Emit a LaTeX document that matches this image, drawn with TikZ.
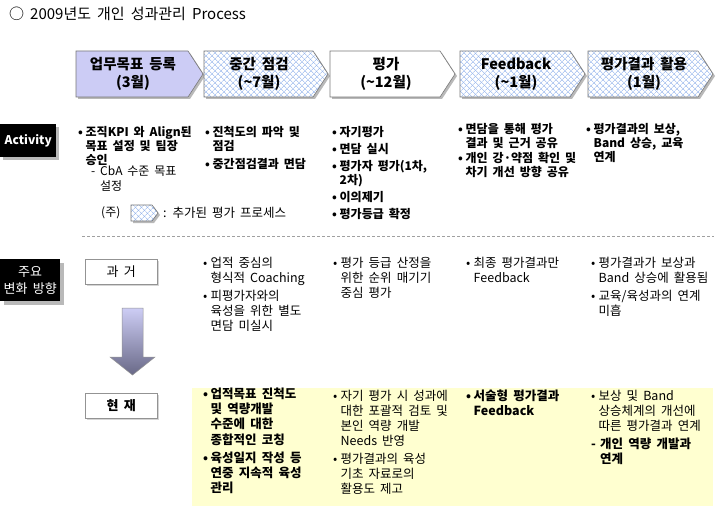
\documentclass[tikz,border=0pt]{standalone}
\usepackage{fontspec}
\setmainfont{Noto Sans CJK KR}[WordSpace=1.8]
\usetikzlibrary{patterns.meta}
\setlength{\lineskip}{0pt}
\definecolor{lav}{RGB}{204,204,245}
\definecolor{hatchc}{RGB}{140,175,235}
\definecolor{bord}{RGB}{120,120,120}
\definecolor{shadowc}{RGB}{185,185,185}
\definecolor{yel}{RGB}{255,255,208}
\definecolor{arrtop}{RGB}{205,205,245}
\definecolor{arrbot}{RGB}{105,105,135}
\newcommand\chevp[5]{(#1,#3) -- ({#2-#5},#3) -- (#2,{(#3+#4)/2}) -- ({#2-#5},#4) -- (#1,#4) -- cycle}
\newcommand\hatchchev[5]{%
  \fill[shadowc,shift={(2,2)}] \chevp{#1}{#2}{#3}{#4}{#5};
  \fill[white] \chevp{#1}{#2}{#3}{#4}{#5};
  \fill[hatchA] \chevp{#1}{#2}{#3}{#4}{#5};
  \fill[hatchB] \chevp{#1}{#2}{#3}{#4}{#5};
  \draw[chevline] \chevp{#1}{#2}{#3}{#4}{#5};}
\newcommand\bul[1]{\makebox[7.5pt][l]{•}\begin{tabular}[t]{@{}l@{}}#1\end{tabular}}
\newcommand\dashit[1]{\makebox[9pt][l]{-}\begin{tabular}[t]{@{}l@{}}#1\end{tabular}}
\tikzset{
  hatchA/.style={pattern={Lines[angle=45,distance=4pt,line width=0.5pt]},pattern color=hatchc},
  hatchB/.style={pattern={Lines[angle=-45,distance=4pt,line width=0.5pt]},pattern color=hatchc},
  chevline/.style={draw=bord,line width=0.6pt},
  ctext/.style={font=\bfseries\fontsize{14.5}{18}\selectfont,align=center,inner sep=0pt},
  actf/.style={font=\bfseries\fontsize{12}{14}\selectfont,anchor=north west,inner sep=0pt,align=left},
  bodyf/.style={font=\fontsize{12.5}{15}\selectfont,anchor=north west,inner sep=0pt,align=left},
  boldf/.style={font=\bfseries\fontsize{12.5}{15}\selectfont,anchor=north west,inner sep=0pt,align=left},
  blackbox/.style={fill=black,text=white,inner sep=0pt,align=center},
  labbox/.style={draw=bord!80,fill=white,line width=0.5pt,minimum width=72pt,minimum height=25pt,inner sep=0pt,font=\fontsize{13}{15}\selectfont},
}
\begin{document}
\begin{tikzpicture}[x=1pt,y=-1pt]
\useasboundingbox (0,0) rectangle (726,508);
% title
\node[anchor=west,inner sep=0pt,font=\fontsize{15}{17}\selectfont] (title) at (9,14) {○ 2009년도 개인 성과관리 Process};
% chevrons
\fill[shadowc,shift={(2,2)}] \chevp{76}{203}{51}{97}{15};
\fill[lav] \chevp{76}{203}{51}{97}{15};
\draw[chevline] \chevp{76}{203}{51}{97}{15};
\hatchchev{204}{328}{51}{97}{15}
\fill[shadowc,shift={(2,2)}] \chevp{330}{455}{51}{97}{15};
\fill[white] \chevp{330}{455}{51}{97}{15};
\draw[chevline] \chevp{330}{455}{51}{97}{15};
\hatchchev{460}{585}{51}{97}{15}
\hatchchev{588}{713}{51}{97}{15}
\node[ctext] (c1) at (133,74) {업무목표 등록\\(3월)};
\node[ctext] (c2) at (259,74) {중간 점검\\(\textasciitilde 7월)};
\node[ctext] (c3) at (386,74) {평가\\(\textasciitilde 12월)};
\node[ctext] (c4) at (516,74) {Feedback\\(\textasciitilde 1월)};
\node[ctext] (c5) at (644,74) {평가결과 활용\\(1월)};
% activity label
\fill[shadowc] (3,127) rectangle (59,160);
\node[blackbox,minimum width=56pt,minimum height=33pt,anchor=north west,font=\bfseries\fontsize{12}{14}\selectfont] (act) at (0,124) {Activity};
% activity texts
\node[actf] (a1) at (78,126) {\bul{조직KPI 와 Align된\\목표 설정 및 팀장\\승인}};
\node[actf,font=\fontsize{12}{14}\selectfont] (a1b) at (91,166) {\dashit{CbA 수준 목표\\설정}};
\node[actf] (a2) at (205,126) {\bul{진척도의 파악 및\\점검}\\[3pt]\bul{중간점검결과 면담}};
\node[actf] (a3) at (332,126) {\bul{자기평가}\\[2.5pt]\bul{면담 실시}\\[2.5pt]\bul{평가자 평가(1차,\\2차)}\\[2.5pt]\bul{이의제기}\\[2.5pt]\bul{평가등급 확정}};
\node[actf] (a4) at (458,123) {\bul{면담을 통해 평가\\결과 및 근거 공유}\\[0pt]\bul{개인 강·약점 확인 및\\차기 개선 방향 공유}};
\node[actf] (a5) at (586,123) {\bul{평가결과의 보상,\\Band 상승, 교육\\연계}};
% legend
\node[anchor=west,inner sep=0pt,font=\fontsize{12}{14}\selectfont] (lg1) at (101,213) {(주)};
\hatchchev{131}{158}{205}{221}{6}
\node[anchor=west,inner sep=0pt,font=\fontsize{12.5}{14}\selectfont] (lg2) at (163,213) {: 추가된 평가 프로세스};
% dashed separator
\coordinate (d1) at (82,236);
\coordinate (d2) at (714,236);
\draw[bord!70,dash pattern=on 3pt off 2pt,line width=0.6pt] (d1) -- (d2);
% change label
\fill[shadowc] (4,263) rectangle (64,305);
\node[blackbox,minimum width=60pt,minimum height=42pt,anchor=north west,font=\fontsize{13}{17}\selectfont] (chg) at (0,259) {주요\\변화 방향};
% past / present boxes
\fill[shadowc!60] (87,261) rectangle (159,286);
\node[labbox,anchor=north west] (past) at (85,259) {과 거};
\fill[shadowc!60] (87,395) rectangle (159,420);
\node[labbox,anchor=north west,font=\bfseries\fontsize{13}{15}\selectfont] (now) at (85,393) {현 재};
% down arrow
\shade[top color=arrtop,bottom color=arrbot,draw=bord!80,line width=0.5pt]
  (122,308) -- (143,308) -- (143,357) -- (155,357) -- (132.5,375) -- (110,357) -- (122,357) -- cycle;
% past texts
\node[bodyf] (p1) at (203,257) {\bul{업적 중심의\\형식적 Coaching}\\[3pt]\bul{피평가자와의\\육성을 위한 별도\\면담 미실시}};
\node[bodyf] (p2) at (333,257) {\bul{평가 등급 산정을\\위한 순위 매기기\\중심 평가}};
\node[bodyf] (p3) at (466,257) {\bul{최종 평가결과만\\Feedback}};
\node[bodyf] (p4) at (591,257) {\bul{평가결과가 보상과\\Band 상승에 활용됨}\\[3pt]\bul{교육/육성과의 연계\\미흡}};
% present band
\fill[yel] (192,388) rectangle (713,506);
\node[boldf] (n1) at (203,388) {\bul{업적목표 진척도\\및 역량개발\\수준에 대한\\종합적인 코칭}\\[3pt]\bul{육성일지 작성 등\\연중 지속적 육성\\관리}};
\node[bodyf] (n2) at (333,390) {\bul{자기 평가 시 성과에\\대한 포괄적 검토 및\\본인 역량 개발\\Needs 반영}\\[3pt]\bul{평가결과의 육성\\기초 자료로의\\활용도 제고}};
\node[boldf] (n3) at (466,390) {\bul{서술형 평가결과\\Feedback}};
\node[bodyf] (n4) at (591,390) {\bul{보상 및 Band\\상승체계의 개선에\\따른 평가결과 연계}\\[3pt]{\bfseries\dashit{개인 역량 개발과\\연계}}};
\end{tikzpicture}
\end{document}
